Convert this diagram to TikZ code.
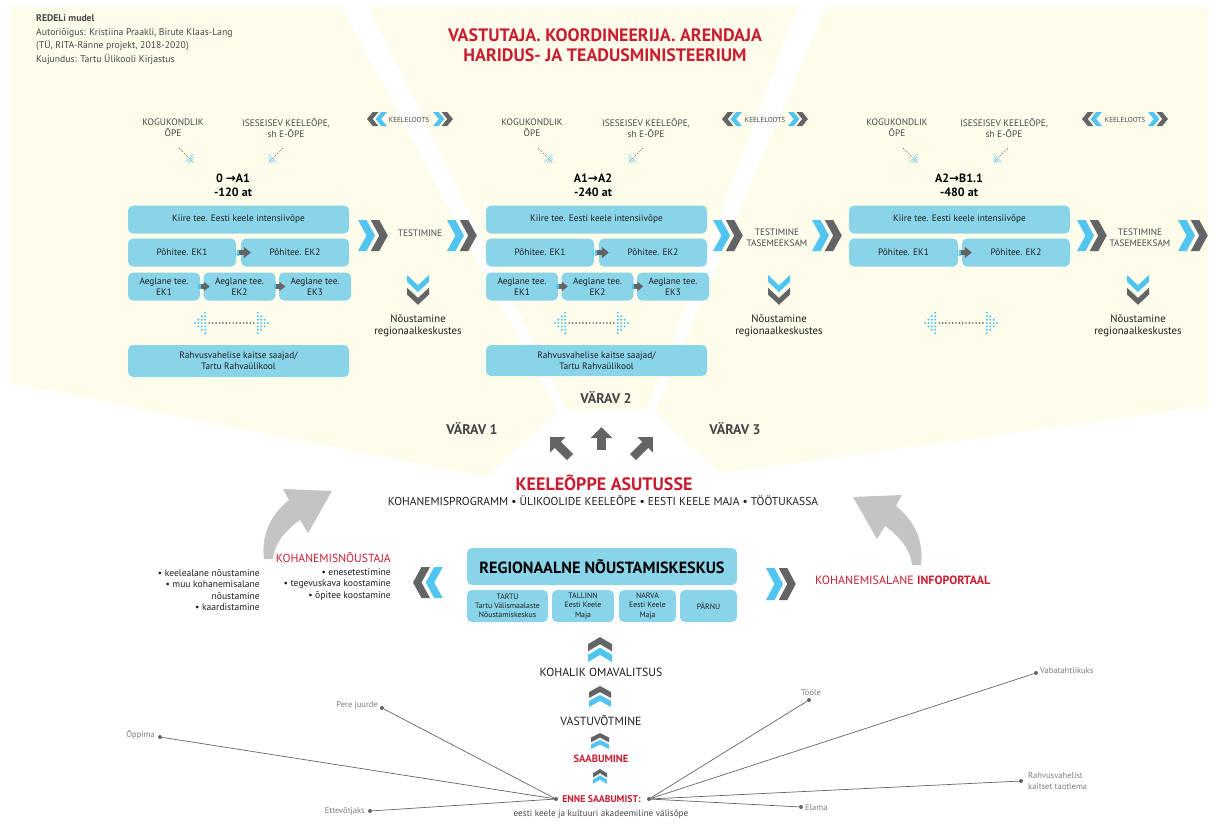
\documentclass[tikz,border=0pt]{standalone}
\usepackage{fontspec}
\setmainfont{PT Sans}
\newfontfamily\djv{DejaVu Sans}
\usetikzlibrary{arrows.meta}
\definecolor{bgc}{RGB}{254,252,235}
\definecolor{boxc}{RGB}{137,212,232}
\definecolor{cblue}{RGB}{82,196,240}
\definecolor{dgray}{RGB}{98,100,102}
\definecolor{redc}{RGB}{200,30,50}
\definecolor{lgray}{RGB}{196,196,196}
\definecolor{tgray}{RGB}{70,70,72}
\definecolor{ngray}{RGB}{125,125,125}
\definecolor{txt}{RGB}{30,30,30}
\newcommand\fs[2]{\fontsize{#1}{#2}\selectfont}
\newcommand\chevR[5]{\fill[#5] ({#1},{#2}) -- ++({0.5*(#3)},0) -- ++({0.5*(#3)},{0.5*(#4)}) -- ++({-0.5*(#3)},{0.5*(#4)}) -- ++({-0.5*(#3)},0) -- ++({0.5*(#3)},{-0.5*(#4)}) -- cycle;}
\newcommand\chevL[5]{\fill[#5] ({(#1)+(#3)},{#2}) -- ++({-0.5*(#3)},0) -- ++({-0.5*(#3)},{0.5*(#4)}) -- ++({0.5*(#3)},{0.5*(#4)}) -- ++({0.5*(#3)},0) -- ++({-0.5*(#3)},{-0.5*(#4)}) -- cycle;}
\newcommand\chevU[5]{\fill[#5] ({#1},{(#2)+0.5*(#4)}) -- ++({0.5*(#3)},{-0.5*(#4)}) -- ++({0.5*(#3)},{0.5*(#4)}) -- ++(0,{0.5*(#4)}) -- ++({-0.5*(#3)},{-0.5*(#4)}) -- ++({-0.5*(#3)},{0.5*(#4)}) -- cycle;}
\newcommand\chevD[5]{\fill[#5] ({#1},{#2}) -- ++({0.5*(#3)},{0.6*(#4)}) -- ++({0.5*(#3)},{-0.6*(#4)}) -- ++(0,{0.4*(#4)}) -- ++({-0.5*(#3)},{0.6*(#4)}) -- ++({-0.5*(#3)},{-0.6*(#4)}) -- cycle;}
\newcommand\pairR[4]{\chevR{#1}{#2}{#3}{#4}{cblue}\chevR{(#1)+0.75*(#3)}{#2}{#3}{#4}{dgray}}
\newcommand\pairL[4]{\chevL{#1}{#2}{#3}{#4}{dgray}\chevL{(#1)+0.75*(#3)}{#2}{#3}{#4}{cblue}}
\newcommand\pairU[4]{\chevU{#1}{#2}{#3}{#4}{dgray}\chevU{#1}{(#2)+0.75*(#4)}{#3}{#4}{cblue}}
\newcommand\pairD[4]{\chevD{#1}{#2}{#3}{#4}{cblue}\chevD{#1}{(#2)+0.75*(#4)}{#3}{#4}{dgray}}
\newcommand\diagarr[5]{\draw[dgray,line width=0.6pt,dash pattern=on 1.2pt off 1.2pt] ({#1},{#2}) -- ({#3},{#4});
 \foreach \a/\b in {0/0,2/0,0/2,4/0,2/2,0/4,6/0,4/2,2/4,0/6,1/1,3/1,1/3,5/1,3/3,1/5}{\fill[cblue] ({(#3)-(#5)*\a*1.2},{(#4)-\b*1.2}) circle (0.6);}}
\newcommand\dotarr[3]{%
 \foreach \k in {0,...,13}{\fill[dgray] ({(#1)+14.2+\k*((#2)-(#1)-28.4)/13},{#3}) circle (0.95);}
 \foreach \i in {0,...,3}{\foreach \j in {-\i,...,\i}{\fill[cblue] ({(#1)+3.4*\i},{(#3)+3.4*\j}) circle (1.1);\fill[cblue] ({(#2)-3.4*\i},{(#3)+3.4*\j}) circle (1.1);}}}
\newcommand\swooshshape{\fill[lgray] (264,559) .. controls (261,536) and (270,515) .. (289,500) -- (283,489) -- (332,491) -- (308,533) -- (300,520) .. controls (286,530) and (275,542) .. (273,559) -- cycle;}
\begin{document}
\begin{tikzpicture}[x=1pt,y=-1pt,
 boxst/.style={fill=boxc,rounded corners=5pt,inner sep=0pt,text=txt,align=center,font=\fs{9.3}{11.4}},
 capst/.style={inner sep=0pt,align=center,text=tgray,font=\fs{9.4}{10.8}},
 lvl/.style={inner sep=0pt,align=center,text=black,font=\bfseries\fs{12}{14}},
 klt/.style={inner sep=0pt,text=tgray,font=\fs{7.2}{8}},
 tst/.style={inner sep=0pt,align=center,text=tgray,font=\fs{9.3}{10.6}},
 nst/.style={inner sep=0pt,align=center,text=txt,font=\fs{10.8}{12}},
 var/.style={inner sep=0pt,text=tgray,font=\bfseries\fs{14}{16}},
 blockarr/.style={dgray,line width=8.5pt,-{Triangle[width=21pt,length=11pt]}},
 sarr/.style={dgray,line width=5.5pt,-{Triangle[width=11pt,length=7pt]}},
 sarrs/.style={dgray,line width=4.5pt,-{Triangle[width=9pt,length=6pt]}},
 dotst/.style={circle,fill=dgray,inner sep=0pt,minimum size=4pt},
 netl/.style={dgray,line width=0.7pt},
 nlab/.style={inner sep=0pt,text=ngray,font=\fs{8.5}{10.5},align=left}]
\useasboundingbox (0,0) rectangle (1216,823);
\fill[white] (0,0) rectangle (1216,823);
% panels
\fill[bgc] (11,7) -- (341,7) -- (557,411) -- (486,477) -- (11,383) -- cycle;
\fill[bgc] (369,7) -- (797,7) -- (647,410) -- (567,410) -- cycle;
\fill[bgc] (826,7) -- (1208,7) -- (1208,406) -- (720,473) -- (655,412) -- cycle;
% credits and title
\node[inner sep=0pt,anchor=west,align=left,text=tgray,font=\fs{9.7}{13.8}] (cred) at (36,39.5) {\textbf{REDELi mudel}\\Autoriõigus: Kristiina Praakli, Birute Klaas-Lang\\(TÜ, RITA-Ränne projekt, 2018-2020)\\Kujundus: Tartu Ülikooli Kirjastus};
\node[inner sep=0pt,align=center,text=redc,font=\bfseries\fs{18}{20}] (title) at (605,45) {VASTUTAJA. KOORDINEERIJA. ARENDAJA\\HARIDUS- JA TEADUSMINISTEERIUM};
% ---------- column 1
\node[capst] (kog1) at (173,128) {KOGUKONDLIK\\ÕPE};
\node[capst] (ise1) at (286,128) {ISESEISEV KEELEÕPE,\\sh E-ÕPE};
\diagarr{179}{148}{193}{162}{1}
\diagarr{283}{148}{269}{162}{-1}
\pairL{367}{112}{11.4}{14}
\node[klt] (kl1) at (409,119.5) {KEELELOOTS};
\pairR{433}{112}{11.4}{14}
\node[lvl] (lv1) at (233,185) {0 {\djv\bfseries →}A1\\-120 at};
\node[boxst,minimum width=221pt,minimum height=28pt] (kiire1) at (238.5,219.5) {Kiire tee. Eesti keele intensiivõpe};
\node[boxst,minimum width=108pt,minimum height=28pt] (p11) at (182,252.5) {Põhitee. EK1};
\node[boxst,minimum width=108pt,minimum height=28pt] (p12) at (295,252.5) {Põhitee. EK2};
\node[boxst,minimum width=72pt,minimum height=28pt] (a11) at (164,286.5) {Aeglane tee.\\EK1};
\node[boxst,minimum width=72pt,minimum height=28pt] (a12) at (239.5,286.5) {Aeglane tee.\\EK2};
\node[boxst,minimum width=72pt,minimum height=28pt] (a13) at (315,286.5) {Aeglane tee.\\EK3};
\node[boxst,minimum width=221pt,minimum height=32pt] (rk1) at (238.5,361) {Rahvusvahelise kaitse saajad/\\Tartu Rahvaülikool};
\pairR{358}{220}{17}{31}
\node[tst] (t1) at (420,233) {TESTIMINE};
\pairR{447}{220}{17}{31}
\pairD{407}{275}{22}{17}
\node[nst] (n1) at (418,326) {Nõustamine\\regionaalkeskustes};
\dotarr{195}{268}{323}
% ---------- column 2
\node[capst] (kog2) at (532,128) {KOGUKONDLIK\\ÕPE};
\node[capst] (ise2) at (646,128) {ISESEISEV KEELEÕPE,\\sh E-ÕPE};
\diagarr{538}{148}{552}{162}{1}
\diagarr{643}{148}{629}{162}{-1}
\pairL{722}{112}{11.4}{14}
\node[klt] (kl2) at (765,119.5) {KEELELOOTS};
\pairR{788}{112}{11.4}{14}
\node[lvl] (lv2) at (593,185) {A1{\djv\bfseries →}A2\\-240 at};
\node[boxst,minimum width=221pt,minimum height=28pt] (kiire2) at (596.5,219.5) {Kiire tee. Eesti keele intensiivõpe};
\node[boxst,minimum width=108pt,minimum height=28pt] (p21) at (540,252.5) {Põhitee. EK1};
\node[boxst,minimum width=108pt,minimum height=28pt] (p22) at (653,252.5) {Põhitee. EK2};
\node[boxst,minimum width=72pt,minimum height=28pt] (a21) at (522,286.5) {Aeglane tee.\\EK1};
\node[boxst,minimum width=72pt,minimum height=28pt] (a22) at (597.5,286.5) {Aeglane tee.\\EK2};
\node[boxst,minimum width=72pt,minimum height=28pt] (a23) at (673,286.5) {Aeglane tee.\\EK3};
\node[boxst,minimum width=221pt,minimum height=31pt] (rk2) at (596.5,360.5) {Rahvusvahelise kaitse saajad/\\Tartu Rahvaülikool};
\pairR{713}{220}{17}{31}
\node[tst] (t2) at (777,238) {TESTIMINE\\TASEMEEKSAM};
\pairR{812}{220}{17}{31}
\pairD{768}{275}{22}{17}
\node[nst] (n2) at (779,326) {Nõustamine\\regionaalkeskustes};
\dotarr{555}{628}{323}
% ---------- column 3
\node[capst] (kog3) at (897,128) {KOGUKONDLIK\\ÕPE};
\node[capst] (ise3) at (1004,128) {ISESEISEV KEELEÕPE,\\sh E-ÕPE};
\diagarr{903}{148}{917}{162}{1}
\diagarr{1008}{148}{994}{162}{-1}
\pairL{1082}{112}{11.4}{14}
\node[klt] (kl3) at (1125,119.5) {KEELELOOTS};
\pairR{1148}{112}{11.4}{14}
\node[lvl] (lv3) at (959,185) {A2{\djv\bfseries →}B1.1\\-480 at};
\node[boxst,minimum width=221pt,minimum height=28pt] (kiire3) at (959.5,219.5) {Kiire tee. Eesti keele intensiivõpe};
\node[boxst,minimum width=109pt,minimum height=28pt] (p31) at (903.5,252.5) {Põhitee. EK1};
\node[boxst,minimum width=108pt,minimum height=28pt] (p32) at (1016,252.5) {Põhitee. EK2};
\pairR{1077}{220}{17}{31}
\node[tst] (t3) at (1140,238) {TESTIMINE\\TASEMEEKSAM};
\pairR{1178}{220}{17}{31}
\pairD{1127}{275}{22}{17}
\node[nst] (n3) at (1138,326) {Nõustamine\\regionaalkeskustes};
\dotarr{925}{997}{323}
% small arrows between boxes
\foreach \pa/\pb in {p11/p12,p21/p22,p31/p32}{
 \fill[cblue] ([xshift=-1.5pt,yshift=-3pt]\pa.east) rectangle ([xshift=0pt,yshift=3pt]\pa.east);
 \fill[cblue] ([xshift=1pt,yshift=-3pt]\pa.east) rectangle ([xshift=2.5pt,yshift=3pt]\pa.east);
 \draw[sarr] ([xshift=2.5pt]\pa.east) -- ([xshift=10pt]\pb.west);}
\foreach \pa/\pb in {a11/a12,a12/a13,a21/a22,a22/a23}{
 \fill[cblue] ([xshift=-2pt,yshift=-2.5pt]\pa.east) rectangle ([xshift=0.5pt,yshift=2.5pt]\pa.east);
 \draw[sarrs] ([xshift=0.5pt]\pa.east) -- ([xshift=6.5pt]\pb.west);}
% gates
\node[var] (v1) at (472,429) {VÄRAV 1};
\node[var] (v2) at (606,398) {VÄRAV 2};
\node[var] (v3) at (735,429) {VÄRAV 3};
\coordinate (g1s) at (570,457); \coordinate (g1e) at (550,437);
\coordinate (g2s) at (601.5,450); \coordinate (g2e) at (601.5,427);
\coordinate (g3s) at (633,457); \coordinate (g3e) at (653,437);
\draw[blockarr] (g1s) -- (g1e);
\draw[blockarr] (g2s) -- (g2e);
\draw[blockarr] (g3s) -- (g3e);
\node[inner sep=0pt,text=redc,font=\bfseries\fs{18}{20}] (keel) at (604,483) {KEELEÕPPE ASUTUSSE};
\node[inner sep=0pt,text=txt,font=\fs{11.5}{13}] (sub) at (603,501) {KOHANEMISPROGRAMM • ÜLIKOOLIDE KEELEÕPE • EESTI KEELE MAJA • TÖÖTUKASSA};
% swooshes
\swooshshape
\begin{scope}[xshift=1185pt,yshift=-6pt,xscale=-1]
\swooshshape
\end{scope}
% counsellor
\node[inner sep=0pt,anchor=east,text=redc,font=\fs{11.7}{13}] (kohn) at (391,558) {KOHANEMISNÕUSTAJA};
\node[inner sep=0pt,anchor=east,align=right,text=txt,font=\fs{9.6}{11.3}] (list1) at (260,590) {• keelealane nõustamine\\• muu kohanemisalane\\nõustamine\\• kaardistamine};
\node[inner sep=0pt,anchor=east,align=right,text=txt,font=\fs{9.6}{11.3}] (list2) at (391,584.5) {• enesetestimine\\• tegevuskava koostamine\\• õpitee koostamine};
\pairL{413}{567}{17}{31}
\node[boxst,minimum width=270pt,minimum height=37pt,font=\bfseries\fs{16.2}{18},text=black] (reg) at (602,566.5) {REGIONAALNE NÕUSTAMISKESKUS};
\node[boxst,minimum width=81pt,minimum height=32pt,font=\fs{7.8}{9.2}] (tartu) at (507.5,606) {TARTU\\Tartu Välismaalaste\\Nõustamiskeskus};
\node[boxst,minimum width=62pt,minimum height=32pt,font=\fs{7.8}{9.2}] (tallinn) at (583,606) {TALLINN\\Eesti Keele\\Maja};
\node[boxst,minimum width=57pt,minimum height=32pt,font=\fs{7.8}{9.2}] (narva) at (647.5,606) {NARVA\\Eesti Keele\\Maja};
\node[boxst,minimum width=57pt,minimum height=32pt,font=\fs{7.8}{9.2}] (parnu) at (708.5,606) {PÄRNU};
\pairR{766}{568}{17}{32}
\node[inner sep=0pt,anchor=west,text=redc,font=\fs{12}{13}] (info) at (815,580) {KOHANEMISALANE \textbf{INFOPORTAAL}};
% ladder bottom
\pairU{588}{637}{24}{14.3}
\node[inner sep=0pt,text=txt,font=\fs{11.8}{13}] (kov) at (601,672) {KOHALIK OMAVALITSUS};
\pairU{589}{686}{22}{12}
\node[inner sep=0pt,text=txt,font=\fs{11.8}{13}] (vastu) at (601,721) {VASTUVÕTMINE};
\pairU{591}{733}{18}{9.2}
\node[inner sep=0pt,text=redc,font=\bfseries\fs{10.5}{12}] (saab) at (601,759) {SAABUMINE};
\pairU{593}{769}{14}{8.5}
\node[inner sep=0pt,text=redc,font=\bfseries\fs{9.8}{11}] (enne) at (601.5,799) {ENNE SAABUMIST:};
\node[inner sep=0pt,text=tgray,font=\fs{9.2}{10}] (eesti) at (601,814) {eesti keele ja kultuuri akadeemiline välisõpe};
% network
\node[dotst] (encl) at (556,799) {};
\node[dotst] (encr) at (649,799) {};
\node[dotst] (pere) at (382,708) {};
\node[dotst] (oppima) at (160,737) {};
\node[dotst] (ettev) at (370,811) {};
\node[dotst] (toole) at (809,700) {};
\node[dotst] (vaba) at (1036,673) {};
\node[dotst] (rahv) at (1021,781) {};
\node[dotst] (elama) at (801,807) {};
\foreach \t in {pere,oppima,ettev}{\draw[netl] (encl) -- (\t);}
\foreach \t in {toole,vaba,rahv,elama}{\draw[netl] (encr) -- (\t);}
\node[nlab,anchor=east] (lpere) at (378,705) {Pere juurde};
\node[nlab,anchor=east] (lopp) at (155,735) {Õppima};
\node[nlab,anchor=east] (lett) at (365,811) {Ettevõtjaks};
\node[nlab,anchor=south] (ltoo) at (811,696) {Tööle};
\node[nlab,anchor=west] (lvaba) at (1040,671) {Vabatahtlikuks};
\node[nlab,anchor=west] (lrahv) at (1028,781) {Rahvusvahelist\\kaitset taotlema};
\node[nlab,anchor=west] (lela) at (805,808) {Elama};
\end{tikzpicture}
\end{document}
